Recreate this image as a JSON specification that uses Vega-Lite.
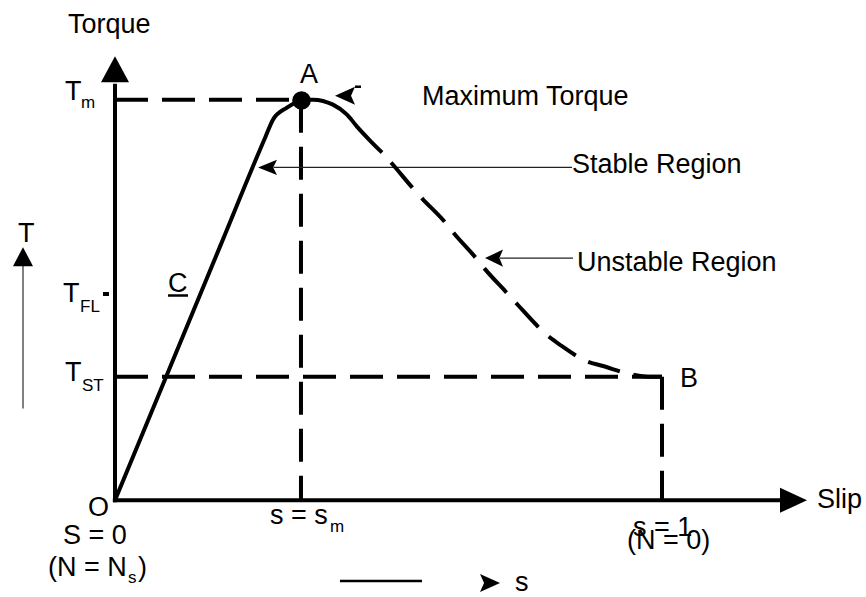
{
  "$schema": "https://vega.github.io/schema/vega-lite/v6.json",
  "width": 866,
  "height": 597,
  "autosize": {"type": "fit", "contains": "padding"},
  "padding": 0,
  "background": "white",
  "config": {"view": {"stroke": null}},
  "datasets": {
    "curveSolid": [
      {"x": 0, "y": 0}, {"x": 9.63, "y": 31.76}, {"x": 19.25, "y": 63.51}, {"x": 27.5, "y": 90.7}, {"x": 28.88, "y": 95.0}, {"x": 31.44, "y": 98.01}, {"x": 33.27, "y": 99.5},
      {"x": 34.0, "y": 100}, {"x": 36.2, "y": 100}, {"x": 39.85, "y": 98.76}, {"x": 42.41, "y": 96.27},
      {"x": 44.24, "y": 93.28}, {"x": 46.62, "y": 89.8}, {"x": 48.81, "y": 86.82}
    ],
    "curveDashed": [
      {"x": 48.81, "y": 86.82}, {"x": 50.46, "y": 84.33}, {"x": 54.48, "y": 77.86}, {"x": 56.12, "y": 75.37},
      {"x": 60.33, "y": 69.4}, {"x": 61.79, "y": 66.92}, {"x": 66.0, "y": 60.45}, {"x": 67.64, "y": 57.71},
      {"x": 71.66, "y": 51.74}, {"x": 73.49, "y": 49.0}, {"x": 79.16, "y": 41.04}, {"x": 81.35, "y": 38.81},
      {"x": 86.47, "y": 34.58}, {"x": 89.03, "y": 33.58}, {"x": 94.7, "y": 31.34}, {"x": 97.44, "y": 30.85},
      {"x": 100, "y": 30.85}
    ],
    "guides": [
      {"x": 0, "y": 100, "x2": 34, "y2": 100},
      {"x": 34, "y": 100, "x2": 34, "y2": 0},
      {"x": 0, "y": 30.85, "x2": 100, "y2": 30.85},
      {"x": 100, "y": 30.85, "x2": 100, "y2": 0}
    ],
    "thick": [
      {"x": 0, "y": -0.5, "x2": 0, "y2": 104},
      {"x": -0.4, "y": 0, "x2": 122, "y2": 0},
      {"x": -2.19, "y": 51.49, "x2": -1.1, "y2": 51.49}
    ],
    "thin": [
      {"x": 29, "y": 83.08, "x2": 83.55, "y2": 83.08},
      {"x": 70.38, "y": 60.45, "x2": 83.73, "y2": 60.45}
    ],
    "grayLine": [
      {"x": -16.82, "y": 22.89, "x2": -16.82, "y2": 58.96}
    ],
    "medium": [
      {"x": 41.13, "y": -20.15, "x2": 56.12, "y2": -20.15},
      {"x": 9.69, "y": 51.12, "x2": 13.35, "y2": 51.12},
      {"x": 43.88, "y": 103.23, "x2": 44.97, "y2": 103.23}
    ],
    "labels": [
      {"x": -8.59, "y": 116.67, "t": "Torque"},
      {"x": -9.14, "y": 100, "t": "T"},
      {"x": 33.82, "y": 104.23, "t": "A"},
      {"x": 56.12, "y": 98.76, "t": "Maximum Torque"},
      {"x": 83.55, "y": 81.59, "t": "Stable Region"},
      {"x": 84.46, "y": 57.21, "t": "Unstable Region"},
      {"x": -9.51, "y": 49.5, "t": "T"},
      {"x": 9.69, "y": 51.99, "t": "C"},
      {"x": -9.14, "y": 29.85, "t": "T"},
      {"x": -17.73, "y": 64.43, "t": "T"},
      {"x": -4.94, "y": -3.98, "t": "O"},
      {"x": -9.51, "y": -10.95, "t": "S = 0"},
      {"x": -12.25, "y": -18.91, "t": "(N = N"},
      {"x": 4.2, "y": -18.91, "t": ")"},
      {"x": 28.34, "y": -5.97, "t": "s = s"},
      {"x": 94.7, "y": -8.96, "t": "s = 1"},
      {"x": 93.6, "y": -12.19, "t": "(N = 0)"},
      {"x": 103.29, "y": 28.36, "t": "B"},
      {"x": 128.34, "y": -1.99, "t": "Slip"},
      {"x": 73.13, "y": -22.64, "t": "s"}
    ],
    "subs": [
      {"x": -6.22, "y": 98.01, "t": "m"},
      {"x": -6.4, "y": 47.01, "t": "FL"},
      {"x": -6.03, "y": 27.36, "t": "ST"},
      {"x": 2.38, "y": -20.65, "t": "s"},
      {"x": 39.31, "y": -7.96, "t": "m"}
    ]
  },
  "encoding": {
    "x": {"field": "x", "type": "quantitative", "scale": {"domain": [-21.024, 137.294], "nice": false, "zero": false}, "axis": null},
    "y": {"field": "y", "type": "quantitative", "scale": {"domain": [-23.632, 124.876], "nice": false, "zero": false}, "axis": null}
  },
  "layer": [
    {"data": {"name": "guides"}, "mark": {"type": "rule", "color": "black", "strokeWidth": 4, "strokeDash": [33, 14]},
     "encoding": {"x2": {"field": "x2"}, "y2": {"field": "y2"}}},
    {"data": {"name": "thick"}, "mark": {"type": "rule", "color": "black", "strokeWidth": 4},
     "encoding": {"x2": {"field": "x2"}, "y2": {"field": "y2"}}},
    {"data": {"name": "thin"}, "mark": {"type": "rule", "color": "#222", "strokeWidth": 1.2},
     "encoding": {"x2": {"field": "x2"}, "y2": {"field": "y2"}}},
    {"data": {"name": "grayLine"}, "mark": {"type": "rule", "color": "#555", "strokeWidth": 1.5},
     "encoding": {"x2": {"field": "x2"}, "y2": {"field": "y2"}}},
    {"data": {"name": "medium"}, "mark": {"type": "rule", "color": "black", "strokeWidth": 2.5},
     "encoding": {"x2": {"field": "x2"}, "y2": {"field": "y2"}}},
    {"data": {"name": "curveSolid"}, "mark": {"type": "line", "color": "black", "strokeWidth": 4, "strokeJoin": "round", "interpolate": "monotone"},
     "encoding": {}},
    {"data": {"name": "curveDashed"}, "mark": {"type": "line", "color": "black", "strokeWidth": 4, "strokeDash": [33, 14], "strokeDashOffset": 33.5, "interpolate": "monotone"},
     "encoding": {}},
    {"data": {"values": [{"x": 34.1, "y": 99.8}]}, "mark": {"type": "point", "shape": "circle", "filled": true, "color": "black", "size": 346, "opacity": 1}},
    {"data": {"values": [{"x": 0, "y": 107.59}]}, "mark": {"type": "point", "shape": "M0,-0.93L1,0.93L-1,0.93Z", "filled": true, "color": "black", "size": 784, "opacity": 1}},
    {"data": {"values": [{"x": 124.04, "y": 0}]}, "mark": {"type": "point", "shape": "M1,0L-1,-0.926L-1,0.926Z", "filled": true, "color": "black", "size": 729, "opacity": 1}},
    {"data": {"values": [{"x": -16.82, "y": 60.82}]}, "mark": {"type": "point", "shape": "M0,-0.95L1,0.95L-1,0.95Z", "filled": true, "color": "black", "size": 400, "opacity": 1}},
    {"data": {"values": [{"x": 27.88, "y": 83.08}]}, "mark": {"type": "point", "shape": "M-1,0L1,-0.8L0.6,0L1,0.8Z", "filled": true, "color": "black", "size": 361, "opacity": 1}},
    {"data": {"values": [{"x": 69.29, "y": 60.45}]}, "mark": {"type": "point", "shape": "M-1,0L1,-0.95L0.6,0L1,0.95Z", "filled": true, "color": "black", "size": 324, "opacity": 1}},
    {"data": {"values": [{"x": 42.05, "y": 101.0}]}, "mark": {"type": "point", "shape": "M-1,0L1,-0.9L0.6,0L1,0.9Z", "filled": true, "color": "black", "size": 400, "opacity": 1}},
    {"data": {"values": [{"x": 68.56, "y": -20.65}]}, "mark": {"type": "point", "shape": "M1,0L-1,-0.9L-0.6,0L-1,0.9Z", "filled": true, "color": "black", "size": 400, "opacity": 1}},
    {"data": {"name": "labels"}, "mark": {"type": "text", "align": "left", "baseline": "alphabetic", "font": "Liberation Sans", "fontSize": 27, "color": "black"},
     "encoding": {"text": {"field": "t"}}},
    {"data": {"name": "subs"}, "mark": {"type": "text", "align": "left", "baseline": "alphabetic", "font": "Liberation Sans", "fontSize": 17, "color": "black"},
     "encoding": {"text": {"field": "t"}}}
  ]
}
